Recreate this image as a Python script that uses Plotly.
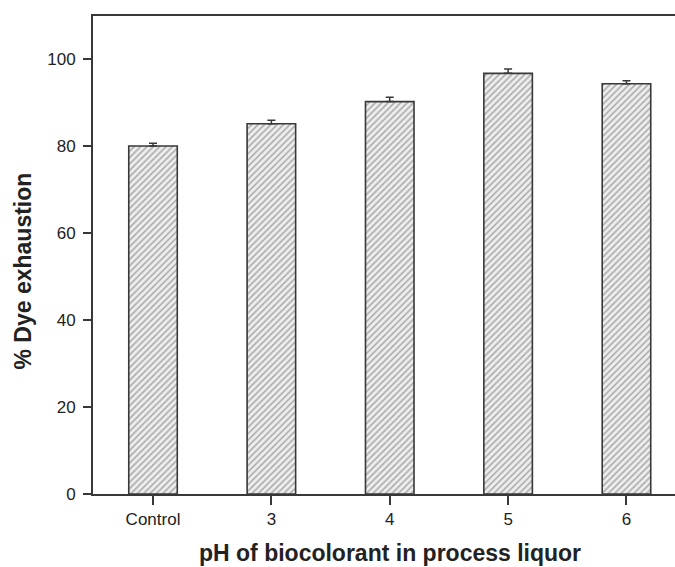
import plotly.graph_objects as go

# Dye exhaustion at different pH of the biocolorant process liquor
categories = ["Control", "3", "4", "5", "6"]
exhaustion = [80.1, 85.2, 90.3, 96.8, 94.4]
exhaustion_err = [0.6, 0.8, 1.0, 1.0, 0.7]
y_ticks = [0, 20, 40, 60, 80, 100]

W, H = 675, 567
L, R, T, B = 93, 0, 16, 73

font_family = "Arial, Liberation Sans, Helvetica, sans-serif"
ink = "#222222"

fig = go.Figure(
    go.Bar(
        x=list(range(len(categories))),
        y=exhaustion,
        width=0.41,
        marker=dict(
            color="#eeeeee",
            line=dict(color="#383838", width=1.6),
            pattern=dict(shape="/", fgcolor="#666666", bgcolor="#eeeeee",
                         size=4.5, solidity=0.35),
        ),
        error_y=dict(type="data", array=exhaustion_err, arrayminus=[0] * len(categories),
                     symmetric=False, color="#383838", thickness=1.5, width=4),
        showlegend=False,
    )
)

plot_w = W - L - R
plot_h = H - T - B

fig.update_layout(
    width=W,
    height=H,
    margin=dict(l=L, r=R, t=T, b=B, pad=0),
    plot_bgcolor="white",
    paper_bgcolor="white",
    font=dict(family=font_family, color=ink, size=17),
    xaxis=dict(
        range=[-0.507, 4.41],
        tickmode="array",
        tickvals=list(range(len(categories))),
        ticktext=categories,
        ticks="outside",
        ticklen=9,
        tickwidth=1.6,
        tickcolor="#383838",
        showline=True,
        linecolor="#383838",
        linewidth=2,
        mirror=True,
        showgrid=False,
        zeroline=False,
        tickfont=dict(size=17, color=ink),
    ),
    yaxis=dict(
        range=[0, 110],
        tickmode="array",
        tickvals=y_ticks,
        ticks="outside",
        ticklen=8,
        tickwidth=1.6,
        tickcolor="#383838",
        showline=True,
        linecolor="#383838",
        linewidth=2,
        showgrid=False,
        zeroline=False,
        tickfont=dict(size=17, color=ink),
        ticklabelstandoff=4,
    ),
    annotations=[
        dict(
            text="% Dye exhaustion",
            xref="paper", yref="paper",
            x=(22 - L) / plot_w, y=(H - B - 271.5) / plot_h,
            xanchor="center", yanchor="middle",
            textangle=-90, showarrow=False,
            font=dict(size=23, weight="bold", color=ink, family=font_family),
        ),
        dict(
            text="pH of biocolorant in process liquor",
            xref="paper", yref="paper",
            x=(390 - L) / plot_w, y=(H - B - 553) / plot_h,
            xanchor="center", yanchor="middle",
            showarrow=False,
            font=dict(size=23, weight="bold", color=ink, family=font_family),
        ),
    ],
)

fig.write_html("out.html")
